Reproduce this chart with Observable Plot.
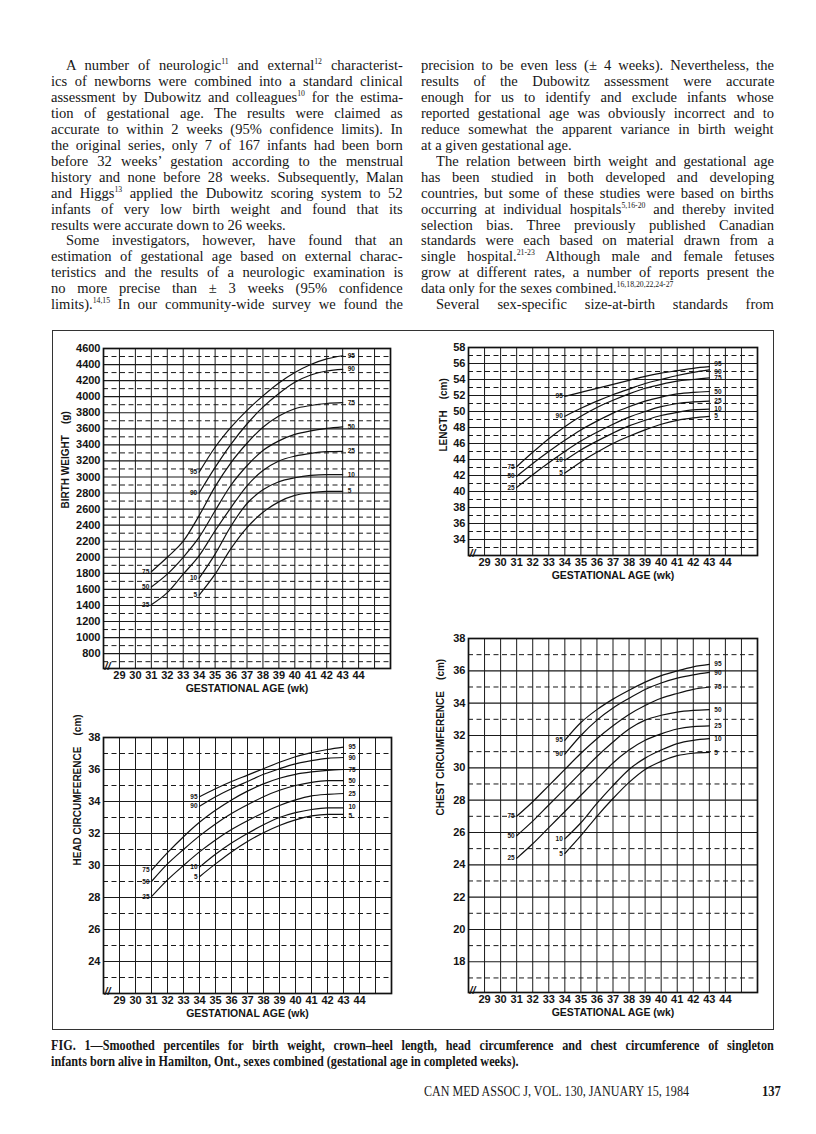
<!DOCTYPE html>
<html><head><meta charset="utf-8">
<script src="https://cdn.jsdelivr.net/npm/d3@7"></script>
<script src="https://cdn.jsdelivr.net/npm/@observablehq/plot@0.6"></script>
<style>
body{margin:0;background:#fff;}
#page{position:relative;width:816px;height:1134px;overflow:hidden;background:#fff;color:#161616;}
.ln{position:absolute;white-space:nowrap;font-family:"Liberation Serif","Times New Roman",serif;font-size:15px;line-height:16px;transform-origin:0 50%;}
.ln sup{font-size:8px;vertical-align:0;position:relative;top:-6px;}
.b{font-weight:bold;}
#frame{position:absolute;left:52px;top:330px;width:722px;height:700px;border:1.4px solid #333;box-sizing:border-box;}
.chart{position:absolute;}
</style></head>
<body><div id="page"><div id="frame"></div></div>
<script>
// ---------------- data ----------------
const percentiles = ["95","90","75","50","25","10","5"];
const startWeeks  = [34, 34, 31, 31, 31, 34, 34];
const weekTicks   = [29,30,31,32,33,34,35,36,37,38,39,40,41,42,43,44];
const weekGrid    = [29,30,31,32,33,34,35,36,37,38,39,40,41,42,43,44,45];

// Birth weight (g)
const bw95 = [3060,3370,3620,3830,4010,4170,4300,4400,4470,4510];
const bw90 = [2800,3120,3410,3660,3870,4040,4180,4270,4320,4340];
const bw75 = [1820,2000,2200,2520,2880,3180,3420,3620,3760,3850,3890,3915,3925];
const bw50 = [1630,1790,2000,2250,2580,2900,3140,3330,3450,3530,3575,3605,3625];
const bw25 = [1410,1560,1790,2020,2330,2620,2890,3080,3200,3260,3295,3315,3320];
const bw10 = [1740,2040,2390,2670,2840,2940,2990,3020,3030,3030];
const bw5  = [1530,1790,2110,2370,2560,2690,2770,2805,2820,2822];
const bwTicks  = [800,1000,1200,1400,1600,1800,2000,2200,2400,2600,2800,3000,3200,3400,3600,3800,4000,4200,4400,4600];
const bwDashed = [700,900,1100,1300,1500,1700,1900,2100,2300,2500,2700,2900,3100,3300,3500,3700,3900,4100,4300,4500];

// Crown-heel length (cm)
const len95 = [51.9,52.4,52.9,53.4,53.9,54.4,54.8,55.1,55.4,55.6];
const len90 = [49.4,50.4,51.3,52.1,52.8,53.5,54.0,54.5,54.9,55.2];
const len75 = [43.1,44.9,46.6,48.1,49.4,50.5,51.4,52.2,52.9,53.4,53.8,54.0,54.2];
const len50 = [41.9,43.5,45.0,46.4,47.7,48.8,49.8,50.6,51.3,51.8,52.2,52.4,52.5];
const len25 = [40.5,42.1,43.6,45.0,46.3,47.4,48.4,49.3,50.0,50.6,51.0,51.2,51.3];
const len10 = [43.9,45.2,46.3,47.3,48.2,48.9,49.5,49.9,50.2,50.3];
const len5  = [42.3,43.7,44.9,46.0,46.9,47.7,48.4,48.9,49.2,49.4];
const lenTicks  = [34,36,38,40,42,44,46,48,50,52,54,56,58];
const lenDashed = [33,35,37,39,41,43,45,47,49,51,53,55,57];

// Head circumference (cm)
const hc95 = [34.3,34.8,35.25,35.65,36.05,36.45,36.8,37.05,37.25,37.4];
const hc90 = [33.7,34.3,34.8,35.25,35.7,36.05,36.35,36.55,36.7,36.75];
const hc75 = [29.7,30.8,31.8,32.7,33.45,34.1,34.65,35.1,35.45,35.7,35.85,35.95,36.0];
const hc50 = [29.0,30.1,31.0,31.85,32.6,33.25,33.8,34.3,34.7,35.0,35.2,35.3,35.3];
const hc25 = [28.05,29.1,30.0,30.85,31.6,32.25,32.8,33.3,33.75,34.1,34.35,34.45,34.5];
const hc10 = [29.9,30.7,31.4,32.0,32.55,33.0,33.3,33.5,33.6,33.6];
const hc5  = [29.3,30.1,30.85,31.5,32.05,32.5,32.85,33.1,33.2,33.2];
const hcTicks  = [24,26,28,30,32,34,36,38];
const hcDashed = [23,25,27,29,31,33,35,37];

// Chest circumference (cm)
const cc95 = [31.7,32.8,33.6,34.25,34.8,35.3,35.7,36.0,36.25,36.4];
const cc90 = [30.85,32.0,32.95,33.7,34.3,34.85,35.25,35.55,35.75,35.9];
const cc75 = [27.0,27.9,28.9,29.9,30.9,31.8,32.6,33.3,33.85,34.3,34.6,34.85,35.0];
const cc50 = [25.8,26.7,27.7,28.7,29.7,30.7,31.6,32.4,32.95,33.25,33.45,33.55,33.6];
const cc25 = [24.4,25.3,26.3,27.3,28.3,29.3,30.3,31.1,31.7,32.1,32.4,32.55,32.6];
const cc10 = [25.6,26.6,27.8,28.9,29.9,30.6,31.1,31.5,31.7,31.8];
const cc5  = [24.7,25.8,27.0,28.1,29.1,29.9,30.4,30.75,30.9,30.95];
const ccTicks  = [18,20,22,24,26,28,30,32,34,36,38];
const ccDashed = [17,19,21,23,25,27,29,31,33,35,37];

// ---------------- prose ----------------
const page = document.getElementById("page");
function placeLine(html, x, yc, width, o = {}) {
  const s = o.scale || 0.97, indent = o.indent || 0;
  const d = document.createElement("div");
  d.className = "ln" + (o.bold ? " b" : "");
  d.innerHTML = html;
  if (o.size) d.style.fontSize = o.size + "px";
  d.style.left = (x + indent) + "px";
  d.style.top = (yc - 8) + "px";
  page.appendChild(d);
  const w = d.offsetWidth;
  const target = (width - indent) / s;
  if (o.justify) {
    const n = (d.textContent.match(/ /g) || []).length;
    if (n) d.style.wordSpacing = ((target - w) / n) + "px";
  } else if (w > target) {
    d.style.letterSpacing = ((target - w) / d.textContent.length) + "px";
  }
  d.style.transform = `scaleX(${s})`;
}
const leftCol = [
  ["A number of neurologic<sup>11</sup> and external<sup>12</sup> characterist-", 1, 15],
  ["ics of newborns were combined into a standard clinical", 1, 0],
  ["assessment by Dubowitz and colleagues<sup>10</sup> for the estima-", 1, 0],
  ["tion of gestational age. The results were claimed as", 1, 0],
  ["accurate to within 2 weeks (95% confidence limits). In", 1, 0],
  ["the original series, only 7 of 167 infants had been born", 1, 0],
  ["before 32 weeks\u2019 gestation according to the menstrual", 1, 0],
  ["history and none before 28 weeks. Subsequently, Malan", 1, 0],
  ["and Higgs<sup>13</sup> applied the Dubowitz scoring system to 52", 1, 0],
  ["infants of very low birth weight and found that its", 1, 0],
  ["results were accurate down to 26 weeks.", 0, 0],
  ["Some investigators, however, have found that an", 1, 15],
  ["estimation of gestational age based on external charac-", 1, 0],
  ["teristics and the results of a neurologic examination is", 1, 0],
  ["no more precise than \u00b1 3 weeks (95% confidence", 1, 0],
  ["limits).<sup>14,15</sup> In our community-wide survey we found the", 1, 0]
];
const rightCol = [
  ["precision to be even less (\u00b1 4 weeks). Nevertheless, the", 1, 0],
  ["results of the Dubowitz assessment were accurate", 1, 0],
  ["enough for us to identify and exclude infants whose", 1, 0],
  ["reported gestational age was obviously incorrect and to", 1, 0],
  ["reduce somewhat the apparent variance in birth weight", 1, 0],
  ["at a given gestational age.", 0, 0],
  ["The relation between birth weight and gestational age", 1, 15],
  ["has been studied in both developed and developing", 1, 0],
  ["countries, but some of these studies were based on births", 1, 0],
  ["occurring at individual hospitals<sup>5,16-20</sup> and thereby invited", 1, 0],
  ["selection bias. Three previously published Canadian", 1, 0],
  ["standards were each based on material drawn from a", 1, 0],
  ["single hospital.<sup>21-23</sup> Although male and female fetuses", 1, 0],
  ["grow at different rates, a number of reports present the", 1, 0],
  ["data only for the sexes combined.<sup>16,18,20,22,24-27</sup>", 0, 0],
  ["Several sex-specific size-at-birth standards from", 1, 15]
];
leftCol.forEach(([h, j, ind], i) => placeLine(h, 51, 65 + 15.95 * i, 352, {justify: j, indent: ind}));
rightCol.forEach(([h, j, ind], i) => placeLine(h, 421, 65 + 15.95 * i, 353, {justify: j, indent: ind}));

placeLine("FIG. 1\u2014Smoothed percentiles for birth weight, crown\u2013heel length, head circumference and chest circumference of singleton", 51, 1046, 723, {justify: 1, bold: 1, size: 14, scale: 0.87});
placeLine("infants born alive in Hamilton, Ont., sexes combined (gestational age in completed weeks).", 51, 1062, 723, {bold: 1, size: 14, scale: 0.87});
placeLine("CAN MED ASSOC J, VOL. 130, JANUARY 15, 1984", 424, 1092, 285, {size: 14, scale: 0.86});
placeLine("137", 762, 1092, 20, {bold: 1, size: 14, scale: 0.9});

// ---------------- charts ----------------
function rowsOf(list) {
  const rows = [];
  list.forEach((vals, k) => vals.forEach((v, i) => rows.push({p: percentiles[k], wk: startWeeks[k] + i, v})));
  return rows;
}
function makeChart(spec) {
  const rows = rowsOf(spec.series);
  const starts = spec.series.map((vals, k) => ({p: percentiles[k], wk: startWeeks[k], v: vals[0]}));
  const ends = spec.series.map((vals, k) => ({p: percentiles[k], wk: startWeeks[k] + vals.length - 1, v: vals[vals.length - 1], k}));
  const endDy = spec.endDy || [0, 0, 0, 0, 0, 0, 0];
  const ML = 50, MR = 22, MT = 8, MB = 32;
  const svg = Plot.plot({
    width: spec.w + ML + MR, height: spec.h + MT + MB,
    marginLeft: ML, marginRight: MR, marginTop: MT, marginBottom: MB,
    style: {background: "transparent", fontFamily: "'Liberation Sans', Arial, sans-serif", fontWeight: "bold", fontSize: "11px", color: "#141414", overflow: "visible"},
    x: {domain: [28, 46]},
    y: {domain: spec.yDomain},
    marks: [
      Plot.ruleX(weekGrid, {stroke: "#1a1a1a", strokeWidth: 1}),
      Plot.ruleY(spec.yTicks, {stroke: "#1a1a1a", strokeWidth: 1.15}),
      Plot.ruleY(spec.yDashed, {stroke: "#1a1a1a", strokeWidth: 1, strokeDasharray: "5,3.5"}),
      Plot.frame({stroke: "#111", strokeWidth: 1.7}),
      Plot.line(rows, {x: "wk", y: "v", z: "p", curve: "monotone-x", stroke: "#111", strokeWidth: 1.2}),
      Plot.text(starts, {x: "wk", y: "v", text: "p", textAnchor: "end", dx: -2, fontSize: 6.5}),
      ...ends.map((e, k) => Plot.text([e], {x: "wk", y: "v", text: "p", textAnchor: "start", dx: 5, dy: endDy[k], fontSize: 6.5})),
      Plot.axisX({ticks: weekTicks, tickSize: 0, tickPadding: 3, fontSize: 11, label: null, tickFormat: d => String(d)}),
      Plot.axisY({ticks: spec.yTicks, tickSize: 0, tickPadding: 3, fontSize: 11, label: null, tickFormat: d => String(d)}),
      Plot.text(["GESTATIONAL AGE (wk)"], {text: d => d, frameAnchor: "bottom", dy: 23, fontSize: 10.5}),
      Plot.text([spec.yLabel], {text: d => d, frameAnchor: "left", rotate: -90, dx: spec.yLabelDx, fontSize: 10}),
      Plot.text(["//"], {text: d => d, frameAnchor: "bottom-left", dx: 1, dy: 1, fontSize: 11, fontStyle: "italic"})
    ]
  });
  const wrap = document.createElement("div");
  wrap.className = "chart";
  wrap.style.left = (spec.left - ML) + "px";
  wrap.style.top = (spec.top - MT) + "px";
  wrap.appendChild(svg);
  page.appendChild(wrap);
}
const nb = "\u00a0\u00a0\u00a0\u00a0";
makeChart({left: 103, top: 348, w: 287, h: 320, yDomain: [615, 4600], yTicks: bwTicks, yDashed: bwDashed,
  yLabel: "BIRTH WEIGHT" + nb + "(g)", yLabelDx: -38, series: [bw95, bw90, bw75, bw50, bw25, bw10, bw5]});
makeChart({left: 468, top: 347, w: 289, h: 208, yDomain: [32, 58], yTicks: lenTicks, yDashed: lenDashed,
  yLabel: "LENGTH" + nb + "(cm)", yLabelDx: -25, series: [len95, len90, len75, len50, len25, len10, len5],
  endDy: [-2.5, 2, 0, 0, 0, 0, 0]});
makeChart({left: 103, top: 737, w: 288, h: 256, yDomain: [22, 38], yTicks: hcTicks, yDashed: hcDashed,
  yLabel: "HEAD CIRCUMFERENCE" + nb + "(cm)", yLabelDx: -26, series: [hc95, hc90, hc75, hc50, hc25, hc10, hc5],
  endDy: [0, 0, 0, 0, 0, -1, 1.5]});
makeChart({left: 468, top: 638, w: 289, h: 354, yDomain: [16.1, 38], yTicks: ccTicks, yDashed: ccDashed,
  yLabel: "CHEST CIRCUMFERENCE" + nb + "(cm)", yLabelDx: -28, series: [cc95, cc90, cc75, cc50, cc25, cc10, cc5]});
</script>
</body></html>
